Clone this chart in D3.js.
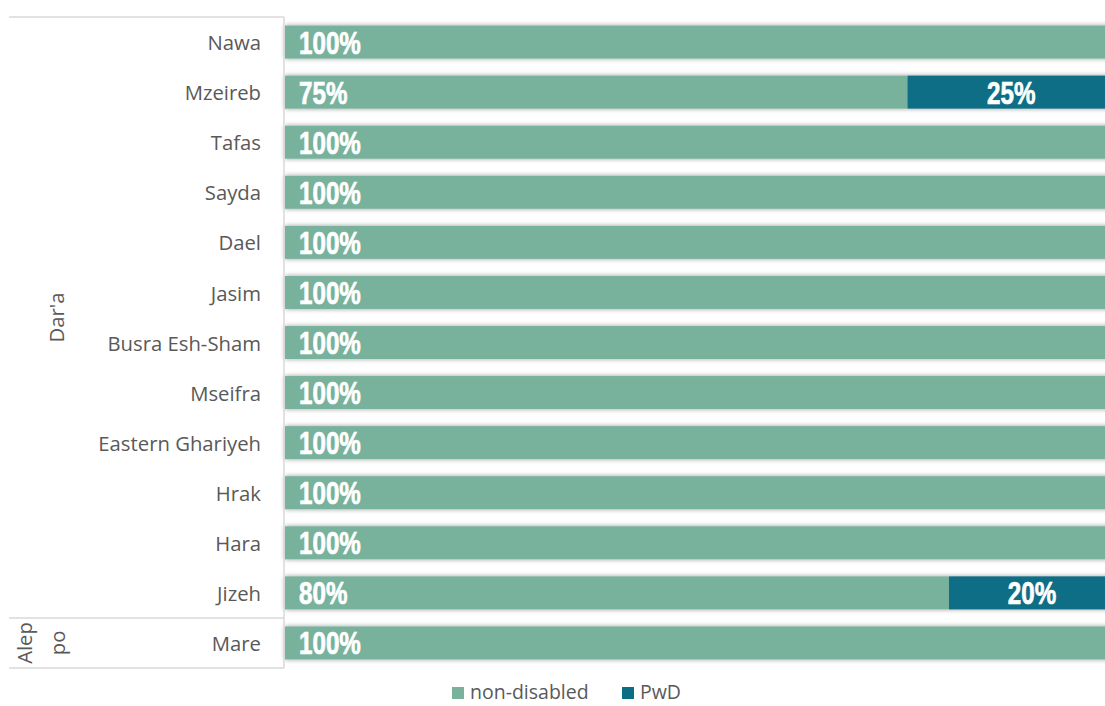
<!DOCTYPE html>
<html>
<head>
<meta charset="utf-8">
<script src="https://cdn.jsdelivr.net/npm/d3@7"></script>
<style>
  html, body { margin: 0; padding: 0; background: #fff; }
  svg { display: block; }
</style>
</head>
<body>
<svg id="chart" width="1105" height="706"></svg>
<script>
// Share of respondents by disability status, per community
const communities = ["Nawa", "Mzeireb", "Tafas", "Sayda", "Dael", "Jasim", "Busra Esh-Sham",
  "Mseifra", "Eastern Ghariyeh", "Hrak", "Hara", "Jizeh", "Mare"];
const governorates = ["Dar'a", "Dar'a", "Dar'a", "Dar'a", "Dar'a", "Dar'a", "Dar'a",
  "Dar'a", "Dar'a", "Dar'a", "Dar'a", "Dar'a", "Aleppo"];
const nonDisabled = [100, 75, 100, 100, 100, 100, 100, 100, 100, 100, 100, 80, 100];
const pwd = [0, 25, 0, 0, 0, 0, 0, 0, 0, 0, 0, 20, 0];
const seriesNames = ["non-disabled", "PwD"];
const seriesColors = ["#78B29D", "#0B6E85"];

const svg = d3.select("#chart");
const defs = svg.append("defs");
const f = defs.append("filter").attr("id", "soft").attr("x", "-5%").attr("y", "-40%")
  .attr("width", "110%").attr("height", "180%");
f.append("feGaussianBlur").attr("in", "SourceAlpha").attr("stdDeviation", 2.6).attr("result", "b");
f.append("feComponentTransfer").attr("in", "b").attr("result", "s")
  .append("feFuncA").attr("type", "linear").attr("slope", 0.4);
const m = f.append("feMerge");
m.append("feMergeNode").attr("in", "s");
m.append("feMergeNode").attr("in", "SourceGraphic");

const plotLeft = 285, plotRight = 1115;
const plotTop = 17, plotBottom = 668;

const x = d3.scaleLinear().domain([0, 100]).range([plotLeft, plotRight]);
const y = d3.scaleBand().domain(d3.range(communities.length)).range([plotTop, plotBottom])
  .paddingInner(0.34).paddingOuter(0.17);

const rows = communities.map((c, i) => ({ c, i, segs: [
  { k: 0, x0: 0, x1: nonDisabled[i], v: nonDisabled[i] },
  { k: 1, x0: nonDisabled[i], x1: nonDisabled[i] + pwd[i], v: pwd[i] }
].filter(s => s.v > 0) }));

const plot = svg.append("g");
const rowG = plot.selectAll("g.row").data(rows).join("g").attr("class", "row");

rowG.append("g").attr("filter", "url(#soft)")
  .selectAll("rect").data(d => d.segs.map(s => ({ ...s, i: d.i }))).join("rect")
  .attr("x", s => x(s.x0))
  .attr("width", s => x(s.x1) - x(s.x0))
  .attr("y", s => y(s.i))
  .attr("height", y.bandwidth())
  .attr("fill", s => seriesColors[s.k]);

// Condensed bold value labels (horizontally squeezed)
const squeeze = 0.78;
rowG.selectAll("text.val").data(d => d.segs.map(s => ({ ...s, i: d.i }))).join("text")
  .attr("class", "val")
  .attr("transform", s => {
    const tx = s.k === 0 ? x(s.x0) + 14 : (x(s.x0) + x(s.x1)) / 2;
    const ty = y(s.i) + y.bandwidth() / 2;
    return `translate(${tx},${ty}) scale(${squeeze},1)`;
  })
  .attr("dy", "0.37em")
  .attr("text-anchor", s => s.k === 0 ? "start" : "middle")
  .attr("font-family", "'Liberation Sans', Arial, sans-serif")
  .attr("font-weight", "bold")
  .attr("font-size", 31)
  .attr("fill", "#fff")
  .attr("stroke", "#fff")
  .attr("stroke-width", 0.7)
  .text(s => s.v + "%");

// Category axis
const labelFont = "'Open Sans', 'Noto Sans', sans-serif";
const axisG = svg.append("g");
axisG.selectAll("text.cat").data(communities).join("text")
  .attr("class", "cat")
  .attr("x", 261)
  .attr("y", (d, i) => y(i) + y.bandwidth() / 2)
  .attr("dy", "0.4em")
  .attr("text-anchor", "end")
  .attr("font-family", labelFont)
  .attr("font-size", 20.3)
  .attr("fill", "#595959")
  .text(d => d);

// Governorate groups
const groups = [];
governorates.forEach((g, i) => {
  const last = groups[groups.length - 1];
  if (last && last.name === g) last.end = i; else groups.push({ name: g, start: i, end: i });
});
const rowTop = i => plotTop + i * (plotBottom - plotTop) / communities.length;
const lineColor = "#D9D9D9";
axisG.append("line").attr("x1", 9).attr("x2", plotLeft - 1).attr("y1", plotTop).attr("y2", plotTop)
  .attr("stroke", lineColor).attr("stroke-width", 1.5);
axisG.append("line").attr("x1", plotLeft - 1).attr("x2", plotLeft - 1).attr("y1", plotTop).attr("y2", plotBottom)
  .attr("stroke", lineColor).attr("stroke-width", 1.5);
groups.forEach(g => {
  const yb = rowTop(g.end + 1);
  axisG.append("line").attr("x1", 9).attr("x2", plotLeft - 1).attr("y1", yb).attr("y2", yb)
    .attr("stroke", lineColor).attr("stroke-width", 1.5);
  const yc = (rowTop(g.start) + yb) / 2;
  const lines = g.name === "Aleppo" ? ["Alep", "po"] : [g.name];
  const xs = lines.length === 1 ? [57] : [25, 58];
  lines.forEach((t, j) => {
    axisG.append("text")
      .attr("transform", `translate(${xs[j]},${yc}) rotate(-90)`)
      .attr("text-anchor", "middle")
      .attr("dy", "0.35em")
      .attr("font-family", labelFont)
      .attr("font-size", 20.3)
      .attr("fill", "#595959")
      .text(t);
  });
});

// Legend
const legend = svg.append("g");
const legendX = [452, 622];
seriesNames.forEach((name, k) => {
  legend.append("rect").attr("x", legendX[k]).attr("y", 687).attr("width", 12).attr("height", 12)
    .attr("fill", seriesColors[k]);
  legend.append("text").attr("x", legendX[k] + 18).attr("y", 692).attr("dy", "0.34em")
    .attr("font-family", labelFont).attr("font-size", 19.5).attr("fill", "#595959")
    .text(name);
});
</script>
</body>
</html>
